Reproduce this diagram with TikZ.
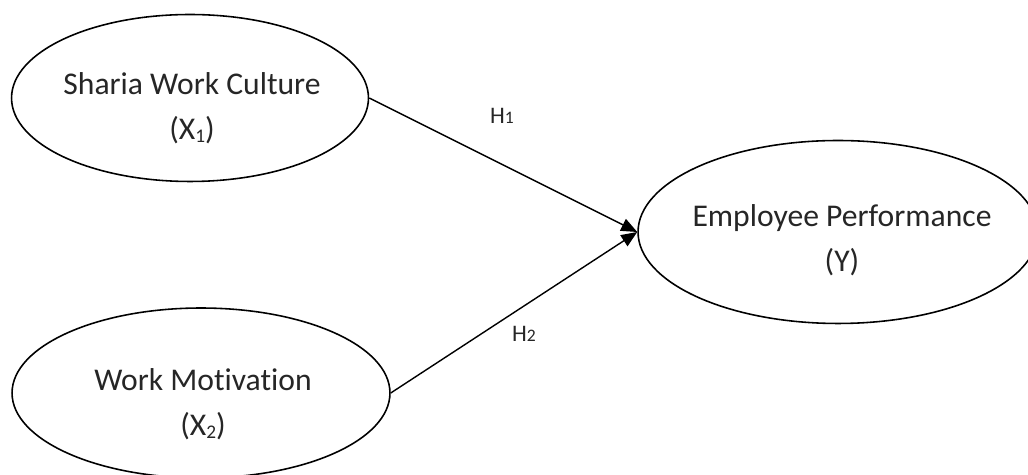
\documentclass[tikz,border=0pt]{standalone}
\usepackage{fontspec}
\setmainfont{Carlito}[Ligatures=NoCommon]
\usetikzlibrary{positioning,arrows.meta,shapes.geometric}
\newcommand{\lowidx}[1]{\raisebox{-2pt}{\fontsize{11}{11}\selectfont #1}}
\newcommand{\hypidx}[1]{{\fontsize{10}{10}\selectfont #1}}
\tikzset{
  latent/.style={draw=black,ellipse,line width=0.9pt,inner sep=0pt},
  vlabel/.style={font=\fontsize{18}{25.5}\selectfont,align=center,text=black!85},
  hlabel/.style={font=\fontsize{13.5}{16}\selectfont,text=black!85},
  arr/.style={-{Triangle[length=3.2mm,width=2.6mm]},line width=0.8pt},
}
\begin{document}
\begin{tikzpicture}[x=0.02cm,y=-0.02cm]
  \useasboundingbox (0,0) rectangle (1028,475);
  % constructs
  \node[latent,minimum width=7.14cm,minimum height=3.34cm] (swc) at (190,98) {};
  \node[latent,minimum width=7.56cm,minimum height=3.40cm] (wm) at (201,393) {};
  \node[latent,minimum width=8.00cm,minimum height=3.66cm] (ep) at (838,232) {};
  \node[vlabel] (swct) at (192,108) {Sharia Work Culture\\(X\lowidx{1})};
  \node[vlabel] (wmt) at (203,404) {Work Motivation\\(X\lowidx{2})};
  \node[vlabel] (ept) at (842,240) {Employee Performance\\(Y)};
  % paths
  \draw[arr] (swc.east) -- (ep.west);
  \draw[arr] (wm.east) -- (ep.west);
  \node[hlabel] (h1) at (502,116) {H\hypidx{1}};
  \node[hlabel] (h2) at (524,334) {H\hypidx{2}};
\end{tikzpicture}
\end{document}
